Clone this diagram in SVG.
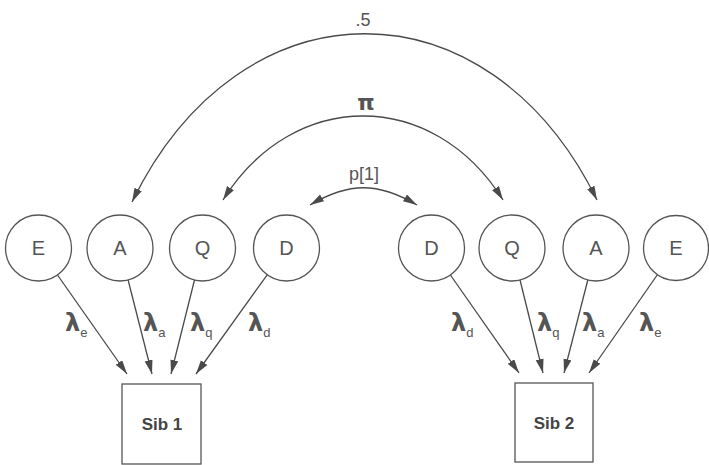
<svg xmlns="http://www.w3.org/2000/svg" width="709" height="465" viewBox="0 0 709 465">
<style>
.node circle{fill:#fff;stroke:#555;stroke-width:1.3}
.node rect{fill:#fff;stroke:#555;stroke-width:1.3}
.lbl{font-family:"Liberation Sans",Arial,sans-serif;fill:#555;font-size:20px;text-anchor:middle}
.box{font-family:"Liberation Sans",Arial,sans-serif;fill:#444;font-size:17px;font-weight:bold;text-anchor:middle}
.edge{fill:none;stroke:#4a4a4a;stroke-width:1.3;marker-end:url(#ah)}
.dbl{marker-start:url(#ah)}
.lam{font-family:"DejaVu Sans",sans-serif;fill:#555;font-size:24px;font-weight:bold}
.sub{font-family:"Liberation Sans",Arial,sans-serif;font-size:13px;font-weight:normal}
.arcl{font-family:"Liberation Sans",Arial,sans-serif;fill:#555;font-size:18px;text-anchor:middle}
.pi{font-family:"DejaVu Sans",sans-serif;font-size:22px;font-weight:bold}
</style>
<defs>
<marker id="ah" markerUnits="userSpaceOnUse" markerWidth="15" markerHeight="9" refX="14" refY="4" orient="auto-start-reverse">
<path d="M0,0 L14,4 L0,8 z" fill="#4a4a4a"/>
</marker>
</defs>
<g id="connectors">
<path class="edge dbl" d="M132,202 C241,-22 488,-22 597,200"/>
<path class="edge dbl" d="M223,200 C293,88 433,88 503,200"/>
<path class="edge dbl" d="M310,205 C349,182 378,182 417,205"/>
<line class="edge" x1="57.5" y1="275" x2="127" y2="374"/>
<line class="edge" x1="128.1" y1="280" x2="152" y2="374"/>
<line class="edge" x1="194.5" y1="280" x2="171" y2="374"/>
<line class="edge" x1="267.2" y1="274.8" x2="196" y2="374"/>
<line class="edge" x1="450.4" y1="275" x2="519" y2="373"/>
<line class="edge" x1="520" y1="280" x2="543" y2="373"/>
<line class="edge" x1="587.8" y1="280" x2="564" y2="373"/>
<line class="edge" x1="657.2" y1="275" x2="589" y2="373"/>
<text class="arcl" x="363" y="26">.5</text>
<text class="arcl pi" x="366" y="110">π</text>
<text class="arcl" x="364" y="180">p[1]</text>
<text class="lam" x="65" y="331">λ<tspan class="sub" dy="6">e</tspan></text>
<text class="lam" x="143" y="331">λ<tspan class="sub" dy="6">a</tspan></text>
<text class="lam" x="190" y="331">λ<tspan class="sub" dy="6">q</tspan></text>
<text class="lam" x="248" y="331">λ<tspan class="sub" dy="6">d</tspan></text>
<text class="lam" x="451" y="331">λ<tspan class="sub" dy="6">d</tspan></text>
<text class="lam" x="537" y="331">λ<tspan class="sub" dy="6">q</tspan></text>
<text class="lam" x="582" y="331">λ<tspan class="sub" dy="6">a</tspan></text>
<text class="lam" x="639" y="331">λ<tspan class="sub" dy="6">e</tspan></text>
</g>
<g id="E1" class="node"><circle cx="38.5" cy="248" r="33"/><text class="lbl" x="38.5" y="255">E</text></g>
<g id="A1" class="node"><circle cx="120" cy="248" r="33"/><text class="lbl" x="120" y="255">A</text></g>
<g id="Q1" class="node"><circle cx="202.5" cy="248" r="33"/><text class="lbl" x="202.5" y="255">Q</text></g>
<g id="D1" class="node"><circle cx="286.5" cy="248" r="33"/><text class="lbl" x="286.5" y="255">D</text></g>
<g id="D2" class="node"><circle cx="431.5" cy="248" r="33"/><text class="lbl" x="431.5" y="255">D</text></g>
<g id="Q2" class="node"><circle cx="512" cy="248" r="33"/><text class="lbl" x="512" y="255">Q</text></g>
<g id="A2" class="node"><circle cx="596" cy="248" r="33"/><text class="lbl" x="596" y="255">A</text></g>
<g id="E2" class="node"><circle cx="676" cy="248" r="32.5"/><text class="lbl" x="676" y="255">E</text></g>
<g id="Sib1" class="node"><rect x="122" y="384" width="79" height="80"/><text class="box" x="162" y="430">Sib 1</text></g>
<g id="Sib2" class="node"><rect x="515" y="383" width="78" height="79"/><text class="box" x="554" y="429">Sib 2</text></g>
</svg>
